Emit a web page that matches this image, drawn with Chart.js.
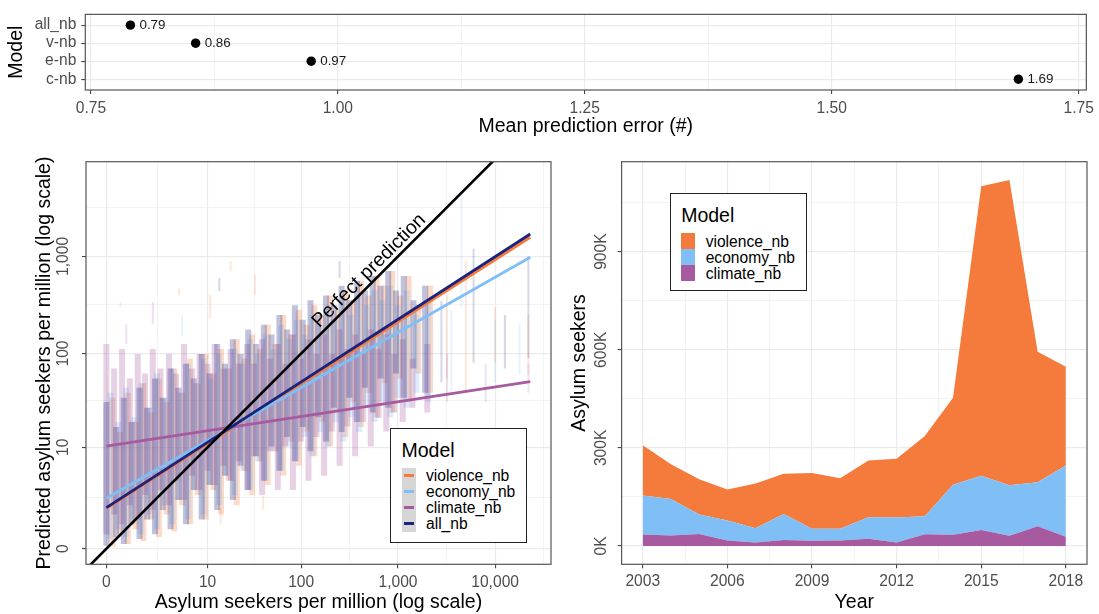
<!DOCTYPE html>
<html lang="en">
<head>
<meta charset="utf-8">
<title>Asylum seekers prediction models</title>
<script src="https://cdn.jsdelivr.net/npm/chart.js@4.4.1/dist/chart.umd.min.js"></script>
<style>
  html, body { margin: 0; padding: 0; background: #fff; }
  body { font-family: 'Liberation Sans', Arial, Helvetica, sans-serif; color: #000; }
  #page { position: relative; width: 1099px; height: 614px; overflow: hidden; }
  .panel { position: absolute; }
  .legend { position: absolute; box-sizing: border-box; border: 1px solid #222; background: #fff; }
  .legend div { position: absolute; white-space: nowrap; }
  .legend .ttl { font-size: 19.5px; line-height: 20px; }
  .legend .lab { font-size: 15.6px; line-height: 16px; }
</style>
</head>
<body>
<div id="page">
  <div class="panel" style="left:0;top:0;width:1099px;height:140px"><canvas id="errorChart"></canvas></div>
  <div class="panel" style="left:0;top:140px;width:555px;height:474px"><canvas id="scatterChart"></canvas></div>
  <div class="panel" style="left:555px;top:140px;width:544px;height:474px"><canvas id="areaChart"></canvas></div>
  <div class="legend" id="scatterLegend" style="left:390px;top:427.7px;width:137px;height:115px"></div>
  <div class="legend" id="areaLegend" style="left:669.7px;top:193.3px;width:137px;height:98px"></div>
</div>
<script>
// top panel: mean prediction error of each model
const errorModels = ['all_nb', 'v-nb', 'e-nb', 'c-nb'];
const meanError = [0.79, 0.856, 0.973, 1.689];
const errorTicks = [0.75, 1.00, 1.25, 1.50, 1.75];

// bottom left: predicted vs observed asylum seekers per million (log(x+1) axes)
const logBreaks = [0, 10, 100, 1000, 10000, 100000];
const fitX = [0, 23000];
const violenceFit = [1.6, 1573];
const economyFit = [2.3, 981];
const climateFit = [10.3, 50.8];
const allFit = [1.64, 1701];
const perfectLine = [-0.4, 30000];
const perfectLabelAt = 600;

// prediction cloud, read as vertical streaks: [observed, lowest predicted, highest predicted]
const violenceCloud = [
  [0.15, 0.05, 34.5], [0.38, 0.41, 14.8], [0.66, 0.12, 39], [1, 0.58, 19], [1.4, 0.2, 49], [1.88, 1, 24],
  [2.47, 0.32, 55], [3.17, 1.24, 31], [4, 0.5, 70], [5, 1.8, 39], [6.24, 0.78, 88], [7.7, 2.55, 49],
  [9.5, 1, 99], [11.6, 3, 62], [14.1, 1.24, 111], [17.2, 4, 70], [20.9, 1.8, 140], [25.3, 5.3, 88],
  [30.6, 2.55, 157], [37, 6.9, 111], [44.7, 3.5, 198], [54, 9, 125], [65, 4.6, 250], [78, 11.6, 157],
  [94.5, 6.1, 281], [114, 15, 198], [137, 7.9, 315], [165, 19, 250], [199, 10.2, 397], [239, 24, 281],
  [287, 13, 446], [346, 31, 354], [416, 16.8, 561], [500, 39, 397], [602, 21.4, 630], [723, 49, 500],
  [870, 24, 707], [1046, 55, 397], [1287, 31, 630], [1621, 62, 315], [2137, 39, 500]
];
const economyCloud = [
  [0.1, 0.26, 39], [0.32, 0.58, 19], [0.59, 0.32, 44], [0.9, 1, 21.4], [1.29, 0.41, 49], [1.75, 1.24, 27],
  [2.31, 0.58, 62], [2.98, 1.8, 34.5], [3.79, 0.78, 70], [4.75, 2.16, 39], [5.92, 1, 78], [7.32, 3, 49],
  [9, 1.24, 88], [11, 3.5, 55], [13.5, 1.8, 99], [16.4, 4.6, 70], [19.9, 2.55, 111], [24.1, 5.3, 78],
  [29.2, 3, 140], [35.3, 6.9, 99], [42.7, 4, 157], [51.5, 9, 111], [62, 5.3, 198], [75, 10.2, 140],
  [90, 6.9, 223], [109, 13, 157], [131, 7.9, 250], [157, 14.8, 198], [190, 10.2, 315], [228, 19, 223],
  [274, 11.6, 354], [330, 21.4, 250], [397, 14.8, 397], [478, 27, 315], [574, 19, 446], [691, 31, 354],
  [831, 21.4, 500], [999, 34.5, 315], [1229, 27, 446], [1548, 39, 250], [2041, 31, 354]
];
const climateCloud = [
  [0, 0.41, 125], [0.2, 1.24, 70], [0.45, 0.78, 111], [0.74, 1.8, 55], [1.1, 1, 99], [1.5, 2.55, 62],
  [2, 1.5, 111], [2.6, 3, 70], [3.4, 1.8, 99], [4.2, 4, 62], [5.3, 2.16, 125], [6.6, 4.6, 70],
  [8.1, 3, 99], [10, 5.3, 78], [12, 3.5, 125], [15, 6.1, 70], [18, 4, 111], [22, 6.9, 78],
  [27, 3, 125], [32, 7.9, 78], [39, 2.55, 140], [47, 9, 88], [57, 3, 125], [68, 10.2, 78],
  [82, 3, 157], [99, 11.6, 88], [119, 4, 140], [144, 13, 99], [173, 4.6, 157], [208, 15, 99],
  [250, 6.1, 177], [301, 17, 111], [362, 7.9, 157], [436, 19, 99], [524, 10.2, 177], [630, 21, 111],
  [758, 15, 157], [911, 24, 99], [1120, 19, 140], [1410, 27, 88], [2000, 24, 125]
];
const allCloud = [
  [0, 0.07, 31], [0.26, 0.32, 16.8], [0.51, 0.12, 34.5], [0.82, 0.78, 19], [1.19, 0.26, 44], [1.63, 1, 27],
  [2.16, 0.41, 55], [2.8, 1.5, 34.5], [3.57, 0.58, 70], [4.5, 2.16, 44], [5.6, 0.78, 78], [6.94, 3, 55],
  [8.55, 1, 99], [10.5, 3.5, 62], [12.8, 1.5, 125], [15.6, 4.6, 78], [19, 2.16, 140], [23, 6.1, 99],
  [27.8, 3, 177], [33.7, 7.9, 125], [40.7, 4, 198], [49, 10.2, 157], [59.3, 5.3, 250], [71.4, 13, 177],
  [86, 6.9, 315], [104, 16.8, 223], [125, 9, 354], [150, 21.4, 250], [181, 11.6, 397], [218, 27, 315],
  [262, 14.8, 500], [315, 34.5, 354], [379, 19, 561], [456, 44, 446], [549, 24, 630], [660, 55, 500],
  [793, 27, 707], [954, 62, 446], [1147, 34.5, 630], [1445, 70, 354], [1904, 39, 500]
];
// faint isolated streaks far from the main cloud
const violenceSparse = [[3200, 55, 400], [5000, 40, 900], [10000, 80, 300], [22000, 60, 250],
  [4.6, 400, 470], [10.7, 230, 400], [18, 700, 900], [33, 400, 650], [14, 0.8, 1.6], [40, 1.5, 2.5]];
const economySparse = [[3550, 40, 280], [4500, 300, 4000], [10000, 50, 220], [17800, 60, 200],
  [0.4, 300, 340], [5, 150, 250]];
const climateSparse = [[3200, 31, 99], [8000, 31, 78], [22000, 39, 78], [2, 200, 340], [0.6, 125, 200]];
const allSparse = [[2800, 50, 350], [6000, 80, 1200], [12600, 70, 250], [22000, 90, 1000],
  [13.5, 440, 600], [250, 600, 900]];

// bottom right: asylum seekers per year, stacked by model
const years = [2003, 2004, 2005, 2006, 2007, 2008, 2009, 2010, 2011, 2012, 2013, 2014, 2015, 2016, 2017, 2018];
const climateSeekers = [35000, 32000, 37000, 17000, 11000, 18000, 16000, 17000, 22000, 11000, 36000, 34000, 49000, 31000, 60000, 28000];
const economySeekers = [119000, 112000, 59000, 61000, 43000, 80000, 37000, 36000, 66000, 76000, 55000, 153000, 166000, 155000, 135000, 218000];
const violenceSeekers = [154000, 106000, 108000, 95000, 137000, 123000, 170000, 154000, 173000, 180000, 245000, 266000, 885000, 933000, 399000, 302000];
const yearTicks = [2003, 2006, 2009, 2012, 2015, 2018];
const seekerTicks = [0, 300000, 600000, 900000, 1200000];

const violenceColor = '#f47b3c';
const economyColor = '#80bff6';
const climateColor = '#a75aa0';
const allColor = '#1b247c';

const fontFamily = "'Liberation Sans', Arial, Helvetica, sans-serif";
Chart.defaults.font.family = fontFamily;
Chart.defaults.font.size = 15.6;
Chart.defaults.color = '#4d4d4d';
Chart.defaults.animation = false;
Chart.defaults.events = [];
Chart.defaults.maintainAspectRatio = false;
Chart.defaults.plugins.legend.display = false;
Chart.defaults.plugins.tooltip.enabled = false;

const tr = v => Math.log10(v + 1);   // log(x+1) transform used by both axes of the scatter

function rgba(hex, a) {
  const n = parseInt(hex.slice(1), 16);
  return `rgba(${n >> 16},${(n >> 8) & 255},${n & 255},${a})`;
}

// major breaks plus ggplot style minor breaks half way, kept inside the axis range
function withMinors(majors) {
  return scale => {
    const out = [];
    majors.forEach((v, i) => {
      out.push({value: v});
      if (i < majors.length - 1) out.push({value: (v + majors[i + 1]) / 2, minor: true});
    });
    scale.ticks = out.filter(t => t.value >= scale.min - 1e-9 && t.value <= scale.max + 1e-9);
  };
}

function grid() {
  return {
    color: '#ebebeb',
    lineWidth: c => (c.tick && c.tick.minor ? 0.6 : 1.2),
    drawTicks: true,
    tickLength: 4,
    tickWidth: 1,
    tickColor: c => (c.tick && c.tick.minor ? 'rgba(0,0,0,0)' : '#333'),
    offset: false
  };
}

function title(text, padding) {
  return {display: true, text: text, color: '#000', font: {size: 19.5}, padding: padding};
}

const panelBorder = {
  id: 'panelBorder',
  afterDraw(chart) {
    const {ctx, chartArea: a} = chart;
    ctx.save();
    ctx.strokeStyle = '#555';
    ctx.lineWidth = 1.2;
    ctx.strokeRect(a.left, a.top, a.right - a.left, a.bottom - a.top);
    ctx.restore();
  }
};

const errorLabels = {
  id: 'errorLabels',
  afterDatasetsDraw(chart) {
    const ctx = chart.ctx;
    ctx.save();
    ctx.font = '13.4px ' + fontFamily;
    ctx.fillStyle = '#1a1a1a';
    ctx.textBaseline = 'middle';
    chart.getDatasetMeta(0).data.forEach((pt, i) => {
      ctx.fillText(meanError[i].toFixed(2), pt.x + 9, pt.y);
    });
    ctx.restore();
  }
};

const perfectLabel = {
  id: 'perfectLabel',
  afterDatasetsDraw(chart) {
    const {ctx, scales: {x, y}} = chart;
    const t = tr(perfectLabelAt);
    const px = x.getPixelForValue(t), py = y.getPixelForValue(t);
    const ang = Math.atan2(y.getPixelForValue(t + 1) - py, x.getPixelForValue(t + 1) - px);
    ctx.save();
    ctx.translate(px, py);
    ctx.rotate(ang);
    ctx.font = '19.5px ' + fontFamily;
    ctx.fillStyle = '#000';
    ctx.textAlign = 'center';
    ctx.textBaseline = 'middle';
    ctx.fillText('Perfect prediction', 0, -10.4);
    ctx.restore();
  }
};

// ---------- top: mean prediction error
new Chart(document.getElementById('errorChart'), {
  type: 'scatter',
  data: {
    datasets: [{
      data: meanError.map((v, i) => ({x: v, y: i + 1})),
      pointRadius: 4.7,
      backgroundColor: '#000',
      borderWidth: 0
    }]
  },
  options: {
    layout: {padding: {left: 0, right: 12, top: 10.5, bottom: 0}},
    scales: {
      x: {
        type: 'linear', min: 0.7443, max: 1.7578,
        afterBuildTicks: withMinors(errorTicks),
        afterFit: s => { s.height = 50; },
        ticks: {autoSkip: false, padding: 5.1, callback: (v, i, t) => (t[i].minor ? '' : v.toFixed(2))},
        grid: grid(), border: {display: false},
        title: title('Mean prediction error (#)', {top: 0, bottom: 1.6})
      },
      y: {
        type: 'linear', reverse: true, min: 0.4, max: 4.6,
        afterBuildTicks: s => { s.ticks = errorModels.map((m, i) => ({value: i + 1})); },
        afterFit: s => { s.width = 85.3; },
        ticks: {autoSkip: false, padding: 5, callback: v => errorModels[Math.round(v) - 1]},
        grid: grid(), border: {display: false},
        title: title('Model', {top: 5.3, bottom: 0})
      }
    }
  },
  plugins: [errorLabels, panelBorder]
});

// ---------- bottom left: predicted vs observed
const scatterSeries = [
  {name: 'violence_nb', color: violenceColor, cloud: violenceCloud, sparse: violenceSparse, fit: violenceFit, order: 4},
  {name: 'economy_nb', color: economyColor, cloud: economyCloud, sparse: economySparse, fit: economyFit, order: 3},
  {name: 'climate_nb', color: climateColor, cloud: climateCloud, sparse: climateSparse, fit: climateFit, order: 2},
  {name: 'all_nb', color: allColor, cloud: allCloud, sparse: allSparse, fit: allFit, order: 1}
];

const streaks = rows => rows.map(([x, lo, hi]) => ({x: tr(x), y: [tr(lo), tr(hi)]}));

const scatterDatasets = [{
  type: 'line',
  data: perfectLine.map(v => ({x: tr(v), y: tr(v)})),
  borderColor: '#000', borderWidth: 2.6, pointRadius: 0, clip: 0, order: 0
}];
scatterSeries.forEach(s => {
  scatterDatasets.push({
    type: 'line',
    label: s.name,
    data: fitX.map((x, i) => ({x: tr(x), y: tr(s.fit[i])})),
    borderColor: s.color, borderWidth: 2.8, pointRadius: 0, clip: 0, order: s.order
  });
  scatterDatasets.push({
    type: 'bar',
    data: streaks(s.cloud),
    backgroundColor: rgba(s.color, 0.28),
    borderWidth: 0, barThickness: 6, grouped: false, inflateAmount: 0,
    order: 10 + s.order
  });
  scatterDatasets.push({
    type: 'bar',
    data: streaks(s.sparse),
    backgroundColor: rgba(s.color, 0.18),
    borderWidth: 0, barThickness: 2, grouped: false, inflateAmount: 0,
    order: 20 + s.order
  });
});

const logTickLabel = (v, i, t) => (t[i].minor ? '' : Math.round(Math.pow(10, v) - 1).toLocaleString('en-US'));

new Chart(document.getElementById('scatterChart'), {
  type: 'scatter',
  data: {datasets: scatterDatasets},
  options: {
    layout: {padding: {left: 0, right: 4, top: 21.7, bottom: 0}},
    scales: {
      x: {
        type: 'linear', min: -0.21, max: 4.575, offset: false,
        afterBuildTicks: withMinors(logBreaks.map(tr)),
        afterFit: s => { s.height = 49.7; },
        ticks: {autoSkip: false, padding: 4.8, maxRotation: 0, callback: logTickLabel},
        grid: grid(), border: {display: false},
        title: title('Asylum seekers per million (log scale)', {top: 0, bottom: 0})
      },
      y: {
        type: 'linear', min: -0.16, max: 3.973,
        afterBuildTicks: withMinors(logBreaks.map(tr)),
        afterFit: s => { s.width = 86; },
        ticks: {autoSkip: false, padding: -0.7, minRotation: 90, maxRotation: 90, crossAlign: 'center', callback: logTickLabel},
        grid: grid(), border: {display: false},
        title: title('Predicted asylum seekers per million (log scale)', {top: 32.8, bottom: 0})
      }
    }
  },
  plugins: [perfectLabel, panelBorder]
});

// ---------- bottom right: stacked areas
const areaSeries = [
  {name: 'violence_nb', color: violenceColor, values: violenceSeekers},
  {name: 'economy_nb', color: economyColor, values: economySeekers},
  {name: 'climate_nb', color: climateColor, values: climateSeekers}
];

new Chart(document.getElementById('areaChart'), {
  type: 'line',
  data: {
    datasets: areaSeries.slice().reverse().map((s, i) => ({
      label: s.name,
      data: years.map((yr, j) => ({x: yr, y: s.values[j]})),
      backgroundColor: s.color,
      borderColor: 'rgba(0,0,0,0)',
      borderWidth: 0,
      pointRadius: 0,
      tension: 0,
      fill: i === 0 ? 'origin' : '-1'
    }))
  },
  options: {
    layout: {padding: {left: 0, right: 12, top: 21.7, bottom: 0}},
    scales: {
      x: {
        type: 'linear', min: 2002.25, max: 2018.75, offset: false,
        afterBuildTicks: withMinors(yearTicks),
        afterFit: s => { s.height = 49.7; },
        ticks: {autoSkip: false, padding: 4.3, maxRotation: 0, callback: (v, i, t) => (t[i].minor ? '' : String(v))},
        grid: grid(), border: {display: false},
        title: title('Year', {top: 0, bottom: 0})
      },
      y: {
        type: 'linear', stacked: true, min: -56000, max: 1175000,
        afterBuildTicks: withMinors(seekerTicks),
        afterFit: s => { s.width = 66.6; },
        ticks: {autoSkip: false, padding: -1.8, minRotation: 90, maxRotation: 90, crossAlign: 'center',
                callback: (v, i, t) => (t[i].minor ? '' : (v / 1000) + 'K')},
        grid: grid(), border: {display: false},
        title: title('Asylum seekers', {top: 13.1, bottom: 0})
      }
    }
  },
  plugins: [panelBorder]
});

// ---------- legends (ggplot style boxes)
function buildLegend(id, series, kind) {
  let html = '<div class="ttl" style="left:10.5px;top:11px">Model</div>';
  if (kind === 'line') {
    html += `<div style="left:10.5px;top:39px;width:14.3px;height:${series.length * 16}px;background:#d6d6d6"></div>`;
  }
  series.forEach((s, i) => {
    const top = 39 + i * 16;
    if (kind === 'line') {
      html += `<div style="left:13px;top:${top + 6.5}px;width:10px;height:3px;background:${s.color}"></div>`;
    } else {
      html += `<div style="left:10.5px;top:${top}px;width:14px;height:16px;background:${s.color}"></div>`;
    }
    html += `<div class="lab" style="left:35px;top:${top + 0.5}px">${s.name}</div>`;
  });
  document.getElementById(id).innerHTML = html;
}
buildLegend('scatterLegend', scatterSeries, 'line');
buildLegend('areaLegend', areaSeries, 'fill');
</script>
</body>
</html>
